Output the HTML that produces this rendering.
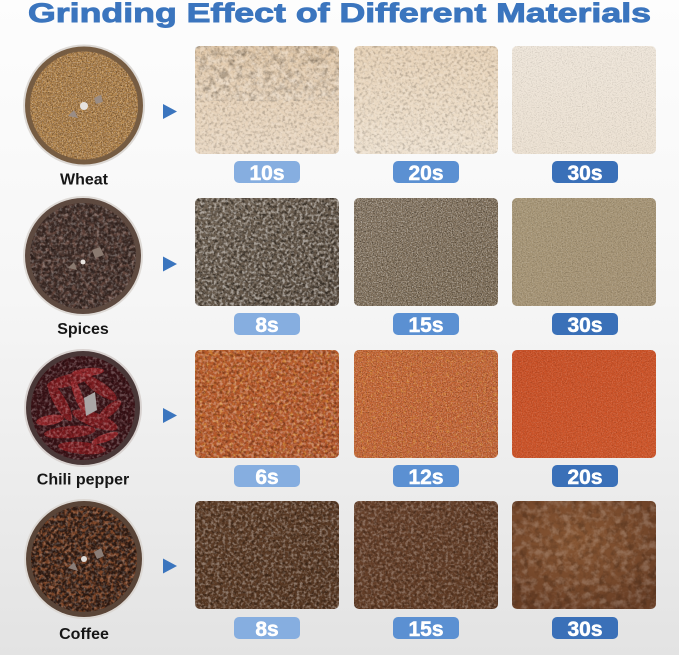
<!DOCTYPE html>
<html><head><meta charset="utf-8"><style>
html,body{margin:0;padding:0;background:#f4f4f4;}
svg{display:block;}
</style></head><body>
<svg width="679" height="655" viewBox="0 0 679 655" xmlns="http://www.w3.org/2000/svg">
<defs>
 <linearGradient id="bg" x1="0" y1="0" x2="0" y2="1">
  <stop offset="0" stop-color="#fdfdfd"/>
  <stop offset="0.45" stop-color="#f6f6f6"/>
  <stop offset="1" stop-color="#e3e3e3"/>
 </linearGradient>
 <clipPath id="rr" clipPathUnits="objectBoundingBox"><rect x="0" y="0" width="1" height="1" rx="0.035" ry="0.046"/></clipPath>
 <clipPath id="cc" clipPathUnits="objectBoundingBox"><circle cx="0.5" cy="0.5" r="0.5"/></clipPath>
 <filter id="texC" x="0%" y="0%" width="100%" height="100%" color-interpolation-filters="sRGB">
  <feTurbulence type="fractalNoise" baseFrequency="0.14" numOctaves="3" seed="4" result="n"/>
  <feColorMatrix in="n" type="matrix" values="0 0 0 0 0  0 0 0 0 0  0 0 0 0 0  3 0 0 0 -1.3" result="d"/>
  <feColorMatrix in="n" type="matrix" values="0 0 0 0 1  0 0 0 0 1  0 0 0 0 1  0 3 0 0 -1.3" result="l"/>
  <feMerge><feMergeNode in="d"/><feMergeNode in="l"/></feMerge>
 </filter>
 <filter id="texM" x="0%" y="0%" width="100%" height="100%" color-interpolation-filters="sRGB">
  <feTurbulence type="fractalNoise" baseFrequency="0.35" numOctaves="2" seed="7" result="n"/>
  <feColorMatrix in="n" type="matrix" values="0 0 0 0 0  0 0 0 0 0  0 0 0 0 0  3.2 0 0 0 -1.4" result="d"/>
  <feColorMatrix in="n" type="matrix" values="0 0 0 0 1  0 0 0 0 1  0 0 0 0 1  0 3.2 0 0 -1.4" result="l"/>
  <feMerge><feMergeNode in="d"/><feMergeNode in="l"/></feMerge>
 </filter>
 <filter id="texF" x="0%" y="0%" width="100%" height="100%" color-interpolation-filters="sRGB">
  <feTurbulence type="fractalNoise" baseFrequency="0.8" numOctaves="2" seed="11" result="n"/>
  <feColorMatrix in="n" type="matrix" values="0 0 0 0 0  0 0 0 0 0  0 0 0 0 0  3 0 0 0 -1.3" result="d"/>
  <feColorMatrix in="n" type="matrix" values="0 0 0 0 1  0 0 0 0 1  0 0 0 0 1  0 3 0 0 -1.3" result="l"/>
  <feMerge><feMergeNode in="d"/><feMergeNode in="l"/></feMerge>
 </filter>
 <filter id="texY" x="0%" y="0%" width="100%" height="100%" color-interpolation-filters="sRGB">
  <feTurbulence type="fractalNoise" baseFrequency="0.3" numOctaves="2" seed="21" result="n"/>
  <feColorMatrix in="n" type="matrix" values="0 0 0 0 0.95  0 0 0 0 0.72  0 0 0 0 0.25  0 0 4 0 -2.1"/>
 </filter>
 <filter id="beans" x="0%" y="0%" width="100%" height="100%" color-interpolation-filters="sRGB">
  <feTurbulence type="fractalNoise" baseFrequency="0.28" numOctaves="2" seed="5" result="n"/>
  <feColorMatrix in="n" type="matrix" values="0 0 0 0 0.50  0 0 0 0 0.28  0 0 0 0 0.16  4 0 0 0 -1.7"/>
 </filter>
 <filter id="grains" x="0%" y="0%" width="100%" height="100%" color-interpolation-filters="sRGB">
  <feTurbulence type="fractalNoise" baseFrequency="0.45" numOctaves="2" seed="9" result="n"/>
  <feColorMatrix in="n" type="matrix" values="0 0 0 0 0.80  0 0 0 0 0.60  0 0 0 0 0.32  4 0 0 0 -1.8"/>
 </filter>
 <filter id="pepper" x="0%" y="0%" width="100%" height="100%" color-interpolation-filters="sRGB">
  <feTurbulence type="fractalNoise" baseFrequency="0.22" numOctaves="2" seed="13" result="n"/>
  <feColorMatrix in="n" type="matrix" values="0 0 0 0 0.42  0 0 0 0 0.30  0 0 0 0 0.26  4 0 0 0 -1.8"/>
 </filter>

 <linearGradient id="w1" x1="0" y1="0" x2="0" y2="1"><stop offset="0" stop-color="#e0c6a6"/><stop offset="0.45" stop-color="#e6d1b7"/><stop offset="1" stop-color="#e9d8c3"/></linearGradient>
 <linearGradient id="w2" x1="0" y1="0" x2="0" y2="1"><stop offset="0" stop-color="#e7d2b7"/><stop offset="1" stop-color="#eee1cf"/></linearGradient>
 <linearGradient id="w3" x1="0" y1="0" x2="0" y2="1"><stop offset="0" stop-color="#efe6da"/><stop offset="1" stop-color="#ede2d3"/></linearGradient>
 <linearGradient id="s1" x1="0" y1="0" x2="1" y2="1"><stop offset="0" stop-color="#6f6253"/><stop offset="1" stop-color="#5c4f42"/></linearGradient>
 <linearGradient id="s2" x1="0" y1="0" x2="1" y2="1"><stop offset="0" stop-color="#847460"/><stop offset="1" stop-color="#7b6a53"/></linearGradient>
 <linearGradient id="s3" x1="0" y1="0" x2="1" y2="1"><stop offset="0" stop-color="#a89777"/><stop offset="1" stop-color="#a59273"/></linearGradient>
 <linearGradient id="c1" x1="0" y1="0" x2="1" y2="1"><stop offset="0" stop-color="#b85a29"/><stop offset="1" stop-color="#b0532a"/></linearGradient>
 <linearGradient id="c2" x1="0" y1="0" x2="1" y2="1"><stop offset="0" stop-color="#c56431"/><stop offset="1" stop-color="#c26032"/></linearGradient>
 <linearGradient id="c3" x1="0" y1="0" x2="1" y2="1"><stop offset="0" stop-color="#c94f25"/><stop offset="1" stop-color="#cf5529"/></linearGradient>
 <linearGradient id="k1" x1="0" y1="0" x2="1" y2="1"><stop offset="0" stop-color="#5d3d27"/><stop offset="1" stop-color="#553621"/></linearGradient>
 <linearGradient id="k2" x1="0" y1="0" x2="1" y2="1"><stop offset="0" stop-color="#66402a"/><stop offset="1" stop-color="#5e3a23"/></linearGradient>
 <radialGradient id="k3" cx="0.45" cy="0.35" r="0.7"><stop offset="0" stop-color="#875633"/><stop offset="0.6" stop-color="#784a2c"/><stop offset="1" stop-color="#683e25"/></radialGradient>
</defs>

<rect x="0" y="0" width="679" height="655" fill="url(#bg)"/>

<!-- Title -->
<text x="28" y="22" font-family="Liberation Sans, Arial, sans-serif" font-weight="bold" font-size="27" fill="#3b75be" stroke="#3b75be" stroke-width="0.9" textLength="623" lengthAdjust="spacingAndGlyphs">Grinding Effect of Different Materials</text>

<!-- Wheat -->
<circle cx="84" cy="105.5" r="61" fill="#dcd8d4"/>
<circle cx="84" cy="105.5" r="59" fill="#765c42"/>
<circle cx="84" cy="105.5" r="54" fill="#a37643"/>
<rect x="30" y="51.5" width="108" height="108" fill="#000" filter="url(#grains)" clip-path="url(#cc)" opacity="0.7"/>
<rect x="30" y="51.5" width="108" height="108" fill="#000" filter="url(#texF)" clip-path="url(#cc)" opacity="0.35"/>
<polygon points="94,98 101,95 103,102 96,104" fill="#9a8c84"/>
<polygon points="68,116 74,110 78,118" fill="#9a8c84"/>
<circle cx="84" cy="106" r="4" fill="#e6e2de"/>

<!-- Spices -->
<circle cx="83" cy="256" r="60" fill="#dedad6"/>
<circle cx="83" cy="256" r="58" fill="#5e4a40"/>
<circle cx="83" cy="256" r="53" fill="#3a2924"/>
<rect x="30" y="203" width="106" height="106" fill="#000" filter="url(#pepper)" clip-path="url(#cc)" opacity="0.85"/>
<rect x="30" y="203" width="106" height="106" fill="#000" filter="url(#texM)" clip-path="url(#cc)" opacity="0.25"/>
<polygon points="92,250 100,247 104,255 95,258" fill="#8a7a70"/>
<polygon points="68,268 74,262 77,270" fill="#8a7a70"/>
<circle cx="83" cy="262" r="2.5" fill="#e8e4e0"/>

<!-- Chili -->
<circle cx="83" cy="408" r="59" fill="#d8d2d0"/>
<circle cx="83" cy="408" r="57" fill="#4a3838"/>
<circle cx="83" cy="408" r="52" fill="#3a1216"/>
<g fill="#7a1a1e">
 <ellipse cx="70" cy="380" rx="24" ry="6" transform="rotate(-15 70 380)"/>
 <ellipse cx="100" cy="388" rx="20" ry="6" transform="rotate(35 100 388)"/>
 <ellipse cx="60" cy="402" rx="22" ry="6" transform="rotate(60 60 402)"/>
 <ellipse cx="95" cy="420" rx="24" ry="7" transform="rotate(20 95 420)"/>
 <ellipse cx="70" cy="432" rx="26" ry="6" transform="rotate(-5 70 432)"/>
 <ellipse cx="110" cy="410" rx="14" ry="5" transform="rotate(-40 110 410)"/>
 <ellipse cx="82" cy="448" rx="24" ry="6" transform="rotate(5 82 448)"/>
</g>
<g fill="#8e2428">
 <ellipse cx="78" cy="395" rx="18" ry="4" transform="rotate(70 78 395)"/>
 <ellipse cx="50" cy="420" rx="14" ry="5" transform="rotate(-10 50 420)"/>
 <ellipse cx="105" cy="438" rx="14" ry="4" transform="rotate(-20 105 438)"/>
 <ellipse cx="88" cy="372" rx="16" ry="4" transform="rotate(-5 88 372)"/>
</g>
<rect x="31" y="356" width="104" height="104" fill="#000" filter="url(#texM)" clip-path="url(#cc)" opacity="0.25"/>
<polygon points="84,398 95,392 97,410 86,416" fill="#aaa6a6"/>

<!-- Coffee -->
<circle cx="84" cy="559" r="60" fill="#dcd8d4"/>
<circle cx="84" cy="559" r="58" fill="#5a4538"/>
<circle cx="84" cy="559" r="53" fill="#2e1a12"/>
<rect x="31" y="506" width="106" height="106" fill="#000" filter="url(#beans)" clip-path="url(#cc)" opacity="1"/>
<rect x="31" y="506" width="106" height="106" fill="#000" filter="url(#texM)" clip-path="url(#cc)" opacity="0.2"/>
<polygon points="94,552 101,548 104,556 97,559" fill="#8a7d76"/>
<polygon points="68,568 74,562 78,571" fill="#8a7d76"/>
<circle cx="84" cy="559" r="3" fill="#e0dcd8"/>

<!-- Labels -->
<g font-family="Liberation Sans, Arial, sans-serif" font-weight="bold" font-size="16" fill="#161616" text-anchor="middle">
 <text x="84" y="184.5">Wheat</text>
 <text x="83" y="334">Spices</text>
 <text x="83" y="484.5">Chili pepper</text>
 <text x="84" y="639">Coffee</text>
</g>

<!-- Arrows -->
<g fill="#3b75be">
 <polygon points="163,104 177,111.5 163,119"/>
 <polygon points="163,256.5 177,264 163,271.5"/>
 <polygon points="163,408 177,415.5 163,423"/>
 <polygon points="163,558.5 177,566 163,573.5"/>
</g>

<!-- Photos row 1 -->
<rect x="195" y="46" width="144" height="108" rx="5" fill="url(#w1)"/>
<rect x="195" y="46" width="144" height="55" fill="#000" filter="url(#texC)" clip-path="url(#rr)" opacity="0.22"/>
<rect x="195" y="46" width="144" height="108" fill="#000" filter="url(#texM)" clip-path="url(#rr)" opacity="0.18"/>
<rect x="354" y="46" width="144" height="108" rx="5" fill="url(#w2)"/>
<rect x="354" y="46" width="144" height="108" fill="#000" filter="url(#texM)" clip-path="url(#rr)" opacity="0.18"/>
<rect x="512" y="46" width="144" height="108" rx="5" fill="url(#w3)"/>
<rect x="512" y="46" width="144" height="108" fill="#000" filter="url(#texF)" clip-path="url(#rr)" opacity="0.12"/>

<!-- Photos row 2 -->
<rect x="195" y="198" width="144" height="108" rx="5" fill="url(#s1)"/>
<rect x="195" y="198" width="144" height="108" fill="#000" filter="url(#texM)" clip-path="url(#rr)" opacity="0.45"/>
<rect x="354" y="198" width="144" height="108" rx="5" fill="url(#s2)"/>
<rect x="354" y="198" width="144" height="108" fill="#000" filter="url(#texF)" clip-path="url(#rr)" opacity="0.4"/>
<rect x="512" y="198" width="144" height="108" rx="5" fill="url(#s3)"/>
<rect x="512" y="198" width="144" height="108" fill="#000" filter="url(#texF)" clip-path="url(#rr)" opacity="0.18"/>

<!-- Photos row 3 -->
<rect x="195" y="350" width="144" height="108" rx="5" fill="url(#c1)"/>
<rect x="195" y="350" width="144" height="108" fill="#000" filter="url(#texY)" clip-path="url(#rr)" opacity="0.4"/>
<rect x="195" y="350" width="144" height="108" fill="#000" filter="url(#texM)" clip-path="url(#rr)" opacity="0.3"/>
<rect x="354" y="350" width="144" height="108" rx="5" fill="url(#c2)"/>
<rect x="354" y="350" width="144" height="108" fill="#000" filter="url(#texY)" clip-path="url(#rr)" opacity="0.3"/>
<rect x="354" y="350" width="144" height="108" fill="#000" filter="url(#texF)" clip-path="url(#rr)" opacity="0.28"/>
<rect x="512" y="350" width="144" height="108" rx="5" fill="url(#c3)"/>
<rect x="512" y="350" width="144" height="108" fill="#000" filter="url(#texF)" clip-path="url(#rr)" opacity="0.15"/>

<!-- Photos row 4 -->
<rect x="195" y="501" width="144" height="108" rx="5" fill="url(#k1)"/>
<rect x="195" y="501" width="144" height="108" fill="#000" filter="url(#texM)" clip-path="url(#rr)" opacity="0.32"/>
<rect x="354" y="501" width="144" height="108" rx="5" fill="url(#k2)"/>
<rect x="354" y="501" width="144" height="108" fill="#000" filter="url(#texM)" clip-path="url(#rr)" opacity="0.25"/>
<rect x="512" y="501" width="144" height="108" rx="5" fill="url(#k3)"/>
<rect x="512" y="501" width="144" height="108" fill="#000" filter="url(#texC)" clip-path="url(#rr)" opacity="0.18"/>

<!-- Badges -->
<g>
 <rect x="234" y="161" width="66" height="22" rx="5" fill="#86aee0"/>
 <rect x="393" y="161" width="66" height="22" rx="5" fill="#5b90d2"/>
 <rect x="552" y="161" width="66" height="22" rx="5" fill="#3a70b8"/>
 <rect x="234" y="313" width="66" height="22" rx="5" fill="#86aee0"/>
 <rect x="393" y="313" width="66" height="22" rx="5" fill="#5b90d2"/>
 <rect x="552" y="313" width="66" height="22" rx="5" fill="#3a70b8"/>
 <rect x="234" y="465" width="66" height="22" rx="5" fill="#86aee0"/>
 <rect x="393" y="465" width="66" height="22" rx="5" fill="#5b90d2"/>
 <rect x="552" y="465" width="66" height="22" rx="5" fill="#3a70b8"/>
 <rect x="234" y="617" width="66" height="22" rx="5" fill="#86aee0"/>
 <rect x="393" y="617" width="66" height="22" rx="5" fill="#5b90d2"/>
 <rect x="552" y="617" width="66" height="22" rx="5" fill="#3a70b8"/>
</g>
<g font-family="Liberation Sans, Arial, sans-serif" font-weight="bold" font-size="21" fill="#ffffff" stroke="#ffffff" stroke-width="0.5" text-anchor="middle">
 <text x="267" y="180">10s</text>
 <text x="426" y="180">20s</text>
 <text x="585" y="180">30s</text>
 <text x="267" y="332">8s</text>
 <text x="426" y="332">15s</text>
 <text x="585" y="332">30s</text>
 <text x="267" y="484">6s</text>
 <text x="426" y="484">12s</text>
 <text x="585" y="484">20s</text>
 <text x="267" y="636">8s</text>
 <text x="426" y="636">15s</text>
 <text x="585" y="636">30s</text>
</g>
</svg>
</body></html>
